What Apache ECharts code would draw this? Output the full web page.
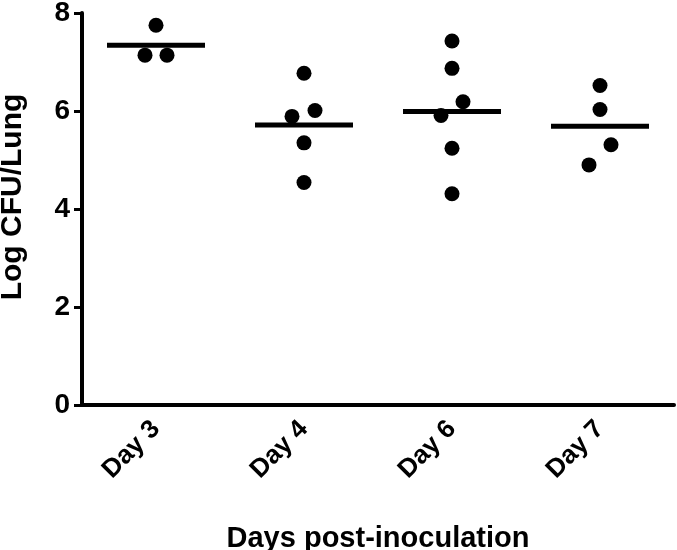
<!DOCTYPE html>
<html>
<head>
<meta charset="utf-8">
<script src="https://cdn.jsdelivr.net/npm/echarts@6/dist/echarts.min.js"></script>
<style>html,body{margin:0;padding:0;background:#fff}#c{width:677px;height:550px}</style>
</head>
<body>
<div id="c"></div>
<script>
// ---- data ----
const categories = ['Day 3', 'Day 4', 'Day 6', 'Day 7'];
const day3 = [7.75, 7.14, 7.14];
const day4 = [6.77, 6.01, 5.89, 5.35, 4.54];
const day6 = [7.43, 6.87, 6.19, 5.91, 5.24, 4.31];
const day7 = [6.52, 6.03, 5.31, 4.90];
const yTicks = [0, 2, 4, 6, 8];

// horizontal jitter of the dots (pixels, style only)
const jitter3 = [0, -11, 11];
const jitter4 = [0, 11, -12, 0, 0];
const jitter6 = [0, 0, 11, -11, 0, 0];
const jitter7 = [0, 0, 11, -11];

const groups = [day3, day4, day6, day7];
const jitters = [jitter3, jitter4, jitter6, jitter7];

const dots = [];
groups.forEach((g, i) => g.forEach((v, k) => dots.push({
  value: [categories[i], v], symbolOffset: [jitters[i][k], 0]
})));
const means = groups.map((g, i) => [categories[i], g.reduce((a, b) => a + b, 0) / g.length]);

const FONT = 'Liberation Sans';
const chart = echarts.init(document.getElementById('c'), null, {renderer: 'canvas'});
chart.setOption({
  animation: false,
  backgroundColor: '#fff',
  grid: {left: 82, right: 3, top: 13, bottom: 145, containLabel: false, outerBoundsMode: 'none'},
  xAxis: {
    type: 'category',
    data: categories,
    boundaryGap: true,
    name: 'Days post-inoculation',
    nameLocation: 'middle',
    nameGap: 119,
    nameTextStyle: {fontFamily: FONT, fontWeight: 'bold', fontSize: 29, color: '#000'},
    axisLine: {lineStyle: {color: '#000', width: 4}},
    axisTick: {alignWithLabel: true, length: 8, lineStyle: {color: '#000', width: 3}},
    axisLabel: {rotate: 45, margin: 20, fontFamily: FONT, fontWeight: 'bold', fontSize: 26, color: '#000'},
    splitLine: {show: false}
  },
  yAxis: {
    type: 'value',
    min: 0, max: 8, interval: 2,
    name: 'Log CFU/Lung',
    nameLocation: 'middle',
    nameGap: 54,
    nameTextStyle: {fontFamily: FONT, fontWeight: 'bold', fontSize: 30, color: '#000', padding: [0, 0, 0, 24]},
    axisLine: {show: true, lineStyle: {color: '#000', width: 4}},
    axisTick: {show: true, length: 8, lineStyle: {color: '#000', width: 3}},
    axisLabel: {margin: 12, fontFamily: FONT, fontWeight: 'bold', fontSize: 28, color: '#000',
      formatter: v => yTicks.includes(v) ? String(v) : ''},
    splitLine: {show: false}
  },
  series: [
    {
      type: 'scatter',
      data: means,
      symbol: 'rect',
      symbolSize: [98, 5],
      itemStyle: {color: '#000', opacity: 1},
      z: 2
    },
    {
      type: 'scatter',
      data: dots,
      symbol: 'circle',
      symbolSize: 15,
      itemStyle: {color: '#000', opacity: 1},
      z: 3
    }
  ]
});
</script>
</body>
</html>
